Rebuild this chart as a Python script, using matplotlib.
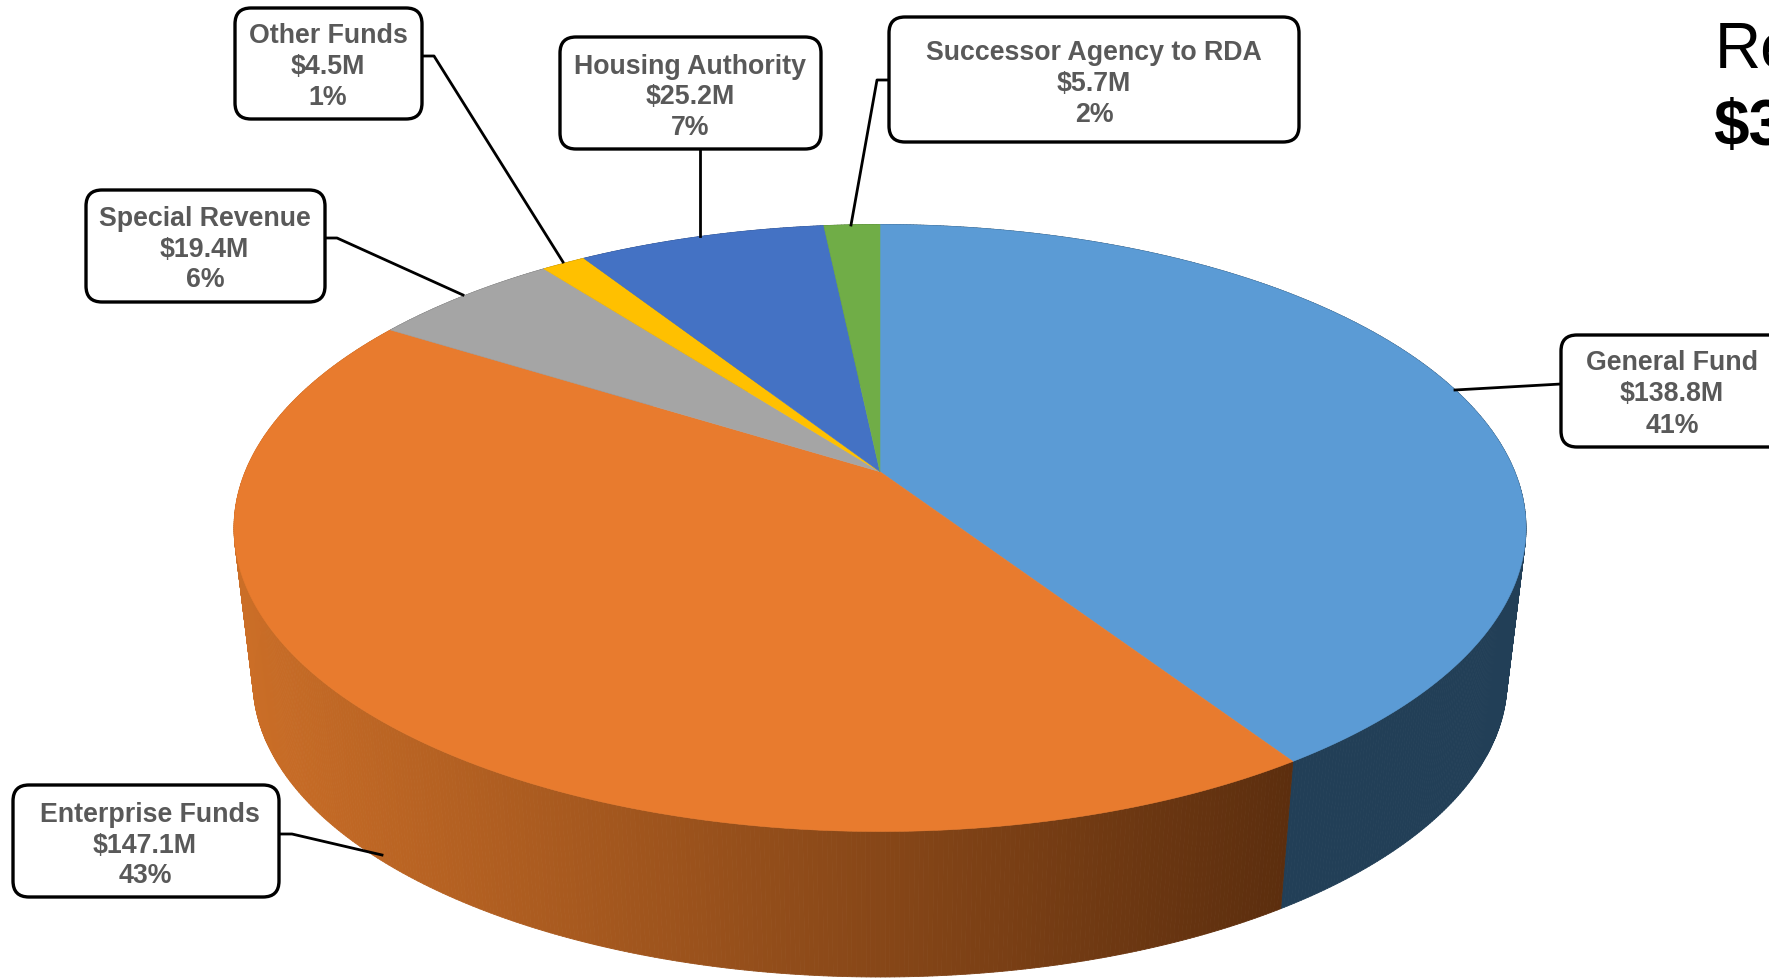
import numpy as np
import matplotlib
matplotlib.use("Agg")
import matplotlib.pyplot as plt
from matplotlib.collections import PolyCollection
from matplotlib.colors import to_rgb
from matplotlib.patches import FancyBboxPatch, Polygon

plt.rcParams['font.family'] = ['Liberation Sans', 'DejaVu Sans']

# data
funds = ["General Fund", "Enterprise Funds", "Special Revenue", "Other Funds", "Housing Authority", "Successor Agency to RDA"]
amounts = [138.8, 147.1, 19.4, 4.5, 25.2, 5.7]
amount_labels = ["$138.8M", "$147.1M", "$19.4M", "$4.5M", "$25.2M", "$5.7M"]
percent_labels = ["41%", "43%", "6%", "1%", "7%", "2%"]
title_lines = ["Revenues", "$340.7M"]

# styles
top_colors = ["#5B9BD5", "#E87B2E", "#A5A5A5", "#FFC000", "#4472C4", "#70AD47"]
wall_left = ["#223F57", "#CB6E27", "#606060", "#997300", "#2A4575", "#43682B"]
wall_right = ["#223F57", "#5C2E0E", "#606060", "#997300", "#2A4575", "#43682B"]

# pie geometry, pixels of the 1769x979 canvas
CX = 880
TOP_CY, TOP_RX, TOP_RY = 529, 646, 303.5
LOW_CY, LOW_RX, LOW_RY = 682, 627, 296
TILT = 0.1855  # apex sits above the middle of the ellipse (perspective)
GRAD_X0, GRAD_X1 = 250, 1282

# box x0,x1,y0,y1 / x of text lines / y of text lines / leader points
layout = {
    "General Fund": ((1561, 1795, 336, 448), (1672, 1672, 1672), (360, 391, 423), [(1561, 385), (1455, 391)]),
    "Enterprise Funds": ((13, 279, 786, 898), (150, 145, 145), (812, 843, 873), [(279, 835), (292, 835), (382, 856)]),
    "Special Revenue": ((86, 325, 191, 303), (205, 204, 205), (216, 247, 277), [(325, 239), (337, 239), (463, 296)]),
    "Other Funds": ((235, 422, 9, 120), (328, 328, 328), (33, 64, 95), [(422, 57), (434, 57), (563, 263)]),
    "Housing Authority": ((560, 821, 38, 150), (690, 690, 690), (64, 94, 125), [(699.5, 149), (699.5, 237)]),
    "Successor Agency to RDA": ((889, 1299, 18, 143), (1094, 1094, 1094), (50, 81, 112), [(889, 81), (877, 81), (851, 226)]),
}


def project(theta, cy, rx, ry):
    # circle -> tilted ellipse, theta clockwise from the top
    xc, yc = np.sin(theta), np.cos(theta)
    d = 1 + TILT * yc
    u = xc * np.sqrt(1 - TILT ** 2) / d
    v = (yc + TILT) / d
    return CX + rx * u, cy - ry * v


fig = plt.figure(figsize=(17.69, 9.79), dpi=100)
ax = fig.add_axes([0, 0, 1, 1])
ax.set_xlim(0, 1769)
ax.set_ylim(979, 0)
ax.axis("off")

edges = np.concatenate([[0], np.cumsum(amounts)]) / np.sum(amounts) * 2 * np.pi

# side wall, narrow strips so the orange can run dark to the right
for i in range(len(amounts)):
    n = max(int((edges[i + 1] - edges[i]) * 160), 2)
    th = np.linspace(edges[i], edges[i + 1], n + 1)
    tx, ty = project(th, TOP_CY, TOP_RX, TOP_RY)
    lx, ly = project(th, LOW_CY, LOW_RX, LOW_RY)
    quads = []
    cols = []
    c0 = np.array(to_rgb(wall_left[i]))
    c1 = np.array(to_rgb(wall_right[i]))
    for j in range(n):
        quads.append([(tx[j], ty[j]), (tx[j + 1], ty[j + 1]), (lx[j + 1], ly[j + 1]), (lx[j], ly[j])])
        f = np.clip((lx[j] - GRAD_X0) / (GRAD_X1 - GRAD_X0), 0, 1)
        cols.append(c0 + (c1 - c0) * f)
    ax.add_collection(PolyCollection(quads, facecolors=cols, edgecolors=cols, linewidths=0.6, zorder=1))

# top face
for i in range(len(amounts)):
    th = np.linspace(edges[i], edges[i + 1], 300)
    x, y = project(th, TOP_CY, TOP_RX, TOP_RY)
    # centre of the circle lands at v = TILT
    pts = [(CX, TOP_CY - TOP_RY * TILT)] + list(zip(x, y))
    ax.add_patch(Polygon(pts, closed=True, facecolor=top_colors[i], edgecolor=top_colors[i], linewidth=0.4, zorder=2))

# callouts
for i, name in enumerate(funds):
    box, xs, ys, leader = layout[name]
    ax.plot([p[0] for p in leader], [p[1] for p in leader], color="black", lw=2.0, solid_joinstyle="round", zorder=3)
    ax.add_patch(FancyBboxPatch((box[0], box[2]), box[1] - box[0], box[3] - box[2],
                                boxstyle="round,pad=0,rounding_size=16", facecolor="white",
                                edgecolor="black", linewidth=2.4, zorder=4))
    for line, tx, ty in zip([name, amount_labels[i], percent_labels[i]], xs, ys):
        ax.text(tx, ty, line, ha="center", va="center_baseline", fontsize=19.25, fontweight="bold", color="#595959", zorder=5)

ax.text(1715, 68, title_lines[0], fontsize=46, color="black", va="baseline", ha="left")
ax.text(1713, 145, title_lines[1], fontsize=46, fontweight="bold", color="black", va="baseline", ha="left")

fig.savefig("out.png", dpi=100)
